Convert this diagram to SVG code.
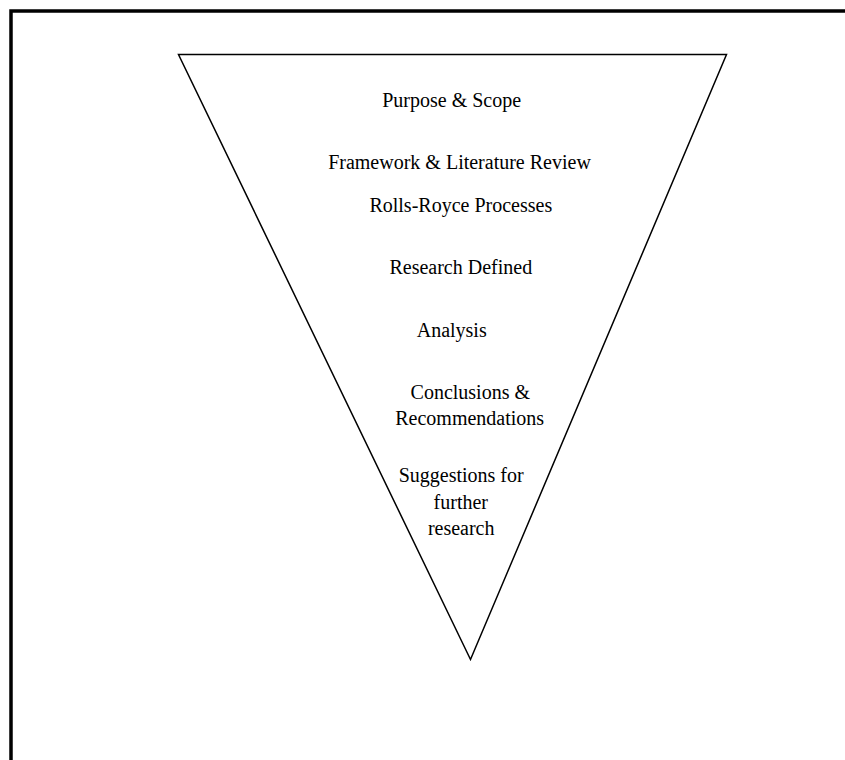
<svg xmlns="http://www.w3.org/2000/svg" width="845" height="760" viewBox="0 0 845 760">
  <style>
    .lbl { font-family: "Liberation Serif", "Times New Roman", serif; font-size: 20px; fill: #000; text-anchor: middle; }
  </style>
  <rect x="0" y="0" width="845" height="760" fill="#fff"/>
  <!-- page frame -->
  <rect x="11" y="11" width="900" height="800" fill="none" stroke="#000" stroke-width="3.5"/>
  <!-- inverted funnel -->
  <g id="funnel">
    <polygon points="178.5,54.5 726.5,54.5 470.5,659.5" fill="none" stroke="#000" stroke-width="1.5" stroke-linejoin="miter"/>
  </g>
  <g id="purpose"><text class="lbl" x="451.7" y="107">Purpose &amp; Scope</text></g>
  <g id="framework"><text class="lbl" x="459.5" y="168.5">Framework &amp; Literature Review</text></g>
  <g id="processes"><text class="lbl" x="460.8" y="211.5">Rolls-Royce Processes</text></g>
  <g id="research-defined"><text class="lbl" x="460.8" y="273.5">Research Defined</text></g>
  <g id="analysis"><text class="lbl" x="451.7" y="336.5">Analysis</text></g>
  <g id="conclusions">
    <text class="lbl" x="470.3" y="398.5">Conclusions &amp;</text>
    <text class="lbl" x="469.7" y="425">Recommendations</text>
  </g>
  <g id="suggestions">
    <text class="lbl" x="461.2" y="481.5">Suggestions for</text>
    <text class="lbl" x="460.8" y="508.5">further</text>
    <text class="lbl" x="461.2" y="535">research</text>
  </g>
</svg>
